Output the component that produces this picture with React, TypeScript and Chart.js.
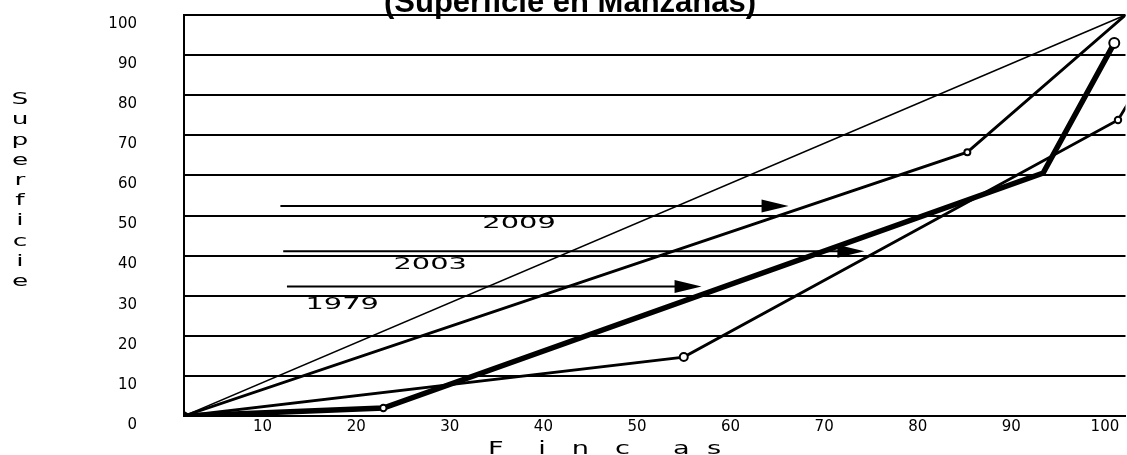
import React, { useEffect, useRef } from 'react';
import { Chart, registerables } from 'chart.js';

Chart.register(...registerables);

// ---- axis values ----
const yTickValues = [0, 10, 20, 30, 40, 50, 60, 70, 80, 90, 100];
const xTickValues = [10, 20, 30, 40, 50, 60, 70, 80, 90, 100];
const xMin = 1.6;
const xMax = 102.2;

// ---- series (Fincas % , Superficie %) ----
const equalityX = [1.6, 102.2];
const equalityY = [0, 100];

const fincas2009 = [1.6, 85.3, 102.2];
const superficie2009 = [0, 65.8, 100];

const fincas2003 = [1.6, 55.0, 101.4, 103.5];
const superficie2003 = [0, 14.7, 73.8, 82.0];

const fincas1979 = [1.6, 22.9, 93.4, 101.0];
const superficie1979 = [0, 2.0, 60.6, 93.0];

// ---- annotations (in axis units) ----
const arrowLabels = ['2009', '2003', '1979'];
const arrowFromX = [11.9, 12.2, 12.6];
const arrowToX = [66.2, 74.3, 56.9];
const arrowAtY = [52.4, 41.1, 32.3];
const labelAtX = [37.4, 27.9, 18.5];
const labelAtY = [46.9, 36.7, 26.7];

const titleText = '(Superficie en Manzanas)';
const yTitleText = 'Superficie';
const xTitleText = 'F    i   n   c     a  s';

const toPoints = (xs: number[], ys: number[]) => xs.map((x, i) => ({ x, y: ys[i] }));

function drawStretched(
  ctx: CanvasRenderingContext2D,
  text: string,
  x: number,
  y: number,
  sx: number,
  font: string,
  align: CanvasTextAlign,
  baseline: CanvasTextBaseline
) {
  ctx.save();
  ctx.translate(x, y);
  ctx.scale(sx, 1);
  ctx.font = font;
  ctx.textAlign = align;
  ctx.textBaseline = baseline;
  ctx.fillStyle = '#000';
  ctx.fillText(text, 0, 0);
  ctx.restore();
}

const decorations = {
  id: 'decorations',
  afterDraw(chart: any) {
    const { ctx, chartArea, scales } = chart;
    const xs = scales.x;
    const ys = scales.y;
    ctx.save();
    ctx.fillStyle = '#000';
    ctx.strokeStyle = '#000';

    // arrows + year labels
    arrowLabels.forEach((lab, i) => {
      const x0 = xs.getPixelForValue(arrowFromX[i]);
      const x1 = xs.getPixelForValue(arrowToX[i]);
      const y = ys.getPixelForValue(arrowAtY[i]);
      const headLen = 27;
      const headHalf = 6.5;
      ctx.lineWidth = 2;
      ctx.beginPath();
      ctx.moveTo(x0, y);
      ctx.lineTo(x1 - headLen + 2, y);
      ctx.stroke();
      ctx.beginPath();
      ctx.moveTo(x1, y);
      ctx.lineTo(x1 - headLen, y - headHalf);
      ctx.lineTo(x1 - headLen, y + headHalf);
      ctx.closePath();
      ctx.fill();
      drawStretched(
        ctx,
        lab,
        xs.getPixelForValue(labelAtX[i]),
        ys.getPixelForValue(labelAtY[i]),
        1.75,
        '16.5px "DejaVu Sans"',
        'center',
        'alphabetic'
      );
    });

    // chart title (cut at the top, as in the scan)
    ctx.font = 'bold 31px "Liberation Sans", Arial, sans-serif';
    ctx.textAlign = 'center';
    ctx.textBaseline = 'alphabetic';
    ctx.fillText(titleText, chart.width / 2 + 6.5, chartArea.top - 3);

    // y axis title: stacked letters
    const letters = yTitleText.split('');
    letters.forEach((ch, i) => {
      drawStretched(ctx, ch, 20, chartArea.top + 85 + i * 20.2, 1.6, '16.5px "DejaVu Sans"', 'center', 'middle');
    });

    // x axis title: spaced letters
    drawStretched(ctx, xTitleText, chartArea.left + 304, chart.height - 1.5, 1.6, '17px "DejaVu Sans"', 'left', 'alphabetic');

    ctx.restore();
  },
};

export default function App() {
  const canvasRef = useRef<HTMLCanvasElement>(null);

  useEffect(() => {
    const canvas = canvasRef.current;
    if (!canvas) return;
    const tickFont = { family: '"DejaVu Sans"', size: 15 };

    const markerRadius = (marks: Record<number, number>) => (c: any) => marks[c.dataIndex] ?? 0;

    const chart = new Chart(canvas, {
      type: 'line',
      data: {
        datasets: [
          {
            label: 'Igualdad',
            data: toPoints(equalityX, equalityY),
            borderColor: '#000',
            borderWidth: 1.6,
            pointRadius: markerRadius({ 0: 4.5 }),
            pointHoverRadius: 0,
            pointBackgroundColor: '#000',
            pointBorderWidth: 0,
            tension: 0,
          },
          {
            label: '2009',
            data: toPoints(fincas2009, superficie2009),
            borderColor: '#000',
            borderWidth: 2.8,
            pointRadius: markerRadius({ 1: 3 }),
            pointHoverRadius: 0,
            pointBackgroundColor: '#fff',
            pointBorderColor: '#000',
            pointBorderWidth: 2,
            tension: 0,
          },
          {
            label: '2003',
            data: toPoints(fincas2003, superficie2003),
            borderColor: '#000',
            borderWidth: 2.8,
            pointRadius: markerRadius({ 1: 4, 2: 3.2 }),
            pointHoverRadius: 0,
            pointBackgroundColor: '#fff',
            pointBorderColor: '#000',
            pointBorderWidth: 2,
            tension: 0,
          },
          {
            label: '1979',
            data: toPoints(fincas1979, superficie1979),
            borderColor: '#000',
            borderWidth: 5.5,
            pointRadius: markerRadius({ 1: 3.2, 3: 5 }),
            pointHoverRadius: 0,
            pointBackgroundColor: '#fff',
            pointBorderColor: '#000',
            pointBorderWidth: 2,
            tension: 0,
          },
        ],
      },
      options: {
        animation: false,
        responsive: false,
        maintainAspectRatio: false,
        layout: { autoPadding: false, padding: { top: 15, right: 1.5, left: 0, bottom: 0 } },
        events: [],
        plugins: {
          legend: { display: false },
          tooltip: { enabled: false },
          title: { display: false },
        },
        scales: {
          x: {
            type: 'linear',
            min: xMin,
            max: xMax,
            afterBuildTicks: (s: any) => {
              s.ticks = xTickValues.map((v) => ({ value: v }));
            },
            afterFit: (s: any) => {
              s.height = 39;
              s.paddingLeft = 0;
              s.paddingRight = 0;
            },
            ticks: {
              color: '#000',
              font: tickFont,
              padding: 2.5,
              autoSkip: false,
              maxRotation: 0,
              callback: (v: any) => String(v),
            },
            grid: { display: false, drawTicks: false },
            border: { display: true, color: '#000', width: 2 },
          },
          y: {
            min: 0,
            max: 100,
            afterBuildTicks: (s: any) => {
              s.ticks = yTickValues.map((v) => ({ value: v }));
            },
            afterFit: (s: any) => {
              s.width = 184;
              s.paddingTop = 0;
              s.paddingBottom = 0;
            },
            ticks: {
              color: '#000',
              font: tickFont,
              padding: 47,
              labelOffset: 9,
              callback: (v: any) => String(v),
            },
            grid: { color: '#000', lineWidth: 2, drawTicks: false },
            border: { display: true, color: '#000', width: 2 },
          },
        },
      },
      plugins: [decorations],
    });

    return () => chart.destroy();
  }, []);

  return (
    <div style={{ position: 'fixed', left: 0, top: 0, width: 1127, height: 455, background: '#fff' }}>
      <canvas ref={canvasRef} width={1127} height={455} style={{ display: 'block', width: 1127, height: 455 }} />
    </div>
  );
}
